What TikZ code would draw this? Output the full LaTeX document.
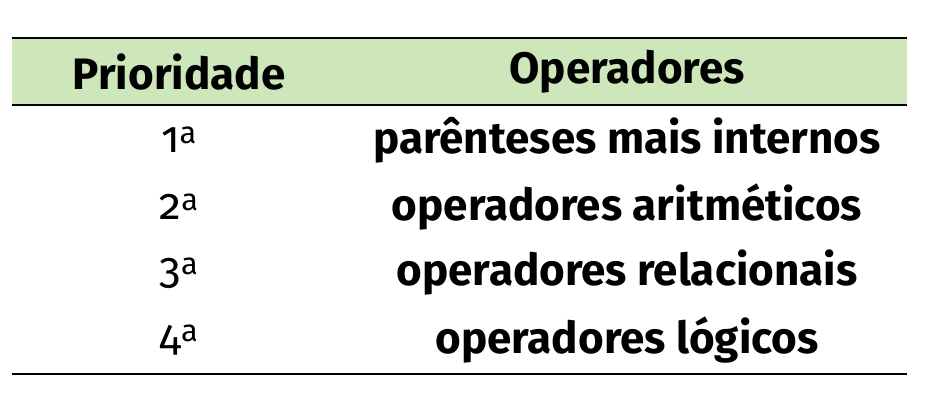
\documentclass[tikz,border=0pt]{standalone}
\usepackage{fontspec}
\setmainfont{Fira Sans}[Numbers=OldStyle]
\newcommand{\orda}{\textsuperscript{a}}
\begin{document}
\begin{tikzpicture}[x=1pt,y=-1pt,
  headtext/.style={font=\fontsize{44}{50}\selectfont\bfseries},
  bodytext/.style={font=\fontsize{44}{50}\selectfont\bfseries},
  ranktext/.style={font=\fontsize{44}{50}\selectfont}]
% moldura da figura
\useasboundingbox (0,0) rectangle (930,402);
% faixa verde do cabecalho
\fill[fill={rgb,255:red,205;green,231;blue,186}] (12,38) rectangle (907,105);
% linhas horizontais da tabela
\draw[line width=1.2pt] (12,38) -- (907,38); % topo
\draw[line width=1.2pt] (12,105) -- (907,105); % fim do cabecalho
\draw[line width=1.2pt] (12,374) -- (907,374); % base
% cabecalho
\node[headtext] (hprio) at (179,72) {Prioridade};
\node[headtext] (hoper) at (627,72) {Operadores};
% coluna de prioridades
\node[ranktext] (r1) at (179,140) {1\orda};
\node[ranktext] (r2) at (179,207) {2\orda};
\node[ranktext] (r3) at (179,273) {3\orda};
\node[ranktext] (r4) at (179,340) {4\orda};
% coluna de operadores
\node[bodytext] (o1) at (627,140) {parênteses mais internos};
\node[bodytext] (o2) at (627,207) {operadores aritméticos};
\node[bodytext] (o3) at (627,273) {operadores relacionais};
\node[bodytext] (o4) at (627,340) {operadores lógicos};
\end{tikzpicture}
\end{document}
